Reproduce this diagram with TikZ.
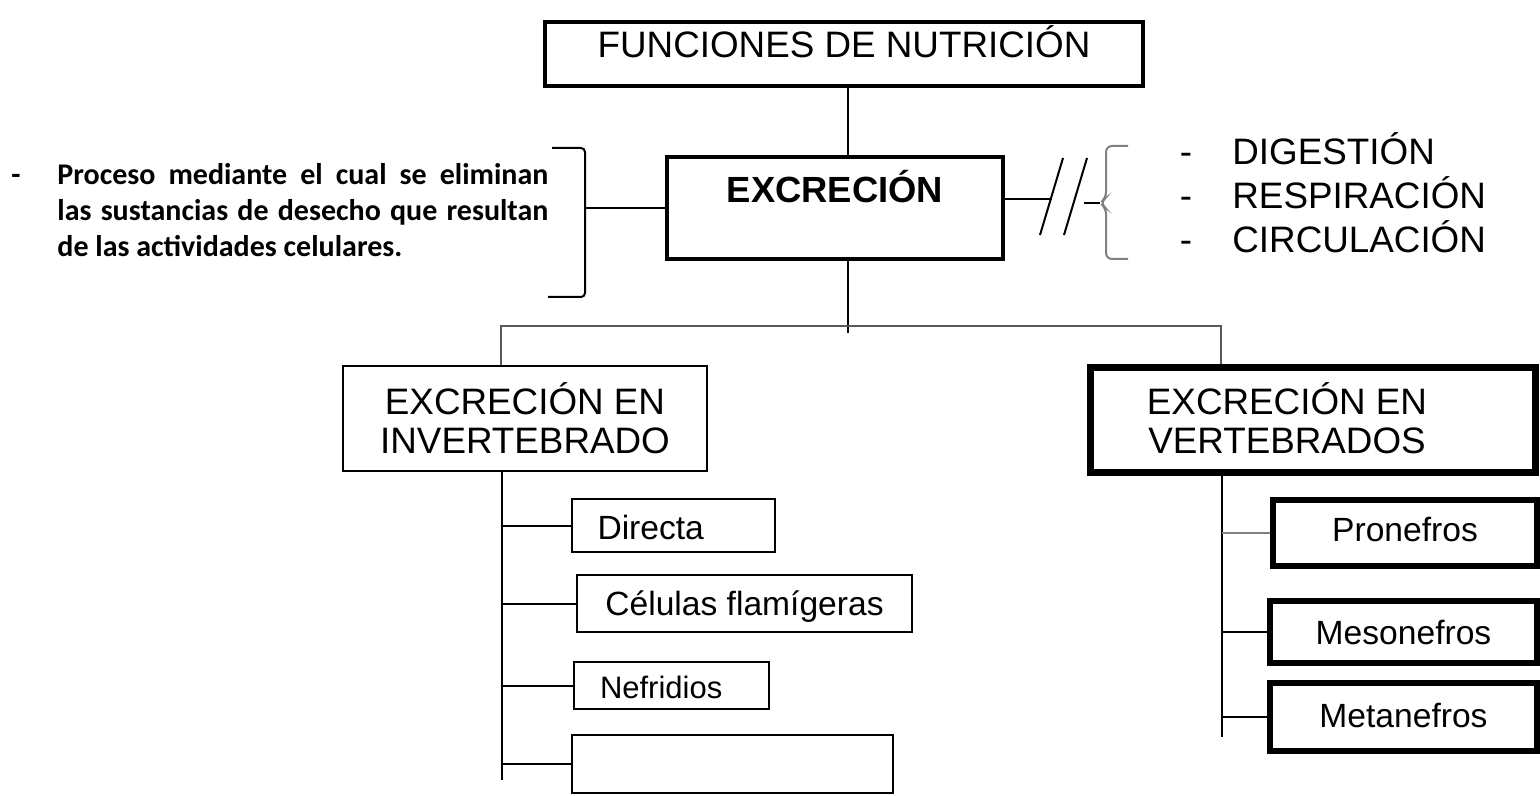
\documentclass[tikz,border=0pt]{standalone}
\usepackage{fontspec}
\setmainfont{Liberation Sans}
\newfontfamily\calibri{Carlito}
\begin{document}
\begin{tikzpicture}[x=0.5pt,y=-0.5pt,
    caja/.style={draw,line width=1pt,inner sep=0pt,font=\fontsize{16.8}{19}\selectfont},
    cajagruesa/.style={caja,line width=1.6pt},
    cajanegra/.style={caja,line width=3.3pt},
    unalinea/.style={text height=12pt,text depth=0pt},
    titulo/.style={font=\fontsize{18.4}{19.5}\selectfont},
    rama/.style={line width=1pt}]
\useasboundingbox (0,0) rectangle (1540,796);
% cajas principales
\node[cajagruesa,minimum width=299pt,minimum height=32pt] (nutricion) at (844,54) {};
\node[titulo,anchor=base] (nutriciontxt) at (844,58) {FUNCIONES DE NUTRICIÓN};
\node[cajagruesa,minimum width=168pt,minimum height=51pt] (excrecion) at (835,208) {};
\node[font=\fontsize{18.2}{20}\selectfont\bfseries,anchor=base] (excreciontxt) at (835,203) {EXCRECIÓN};
\node[caja,titulo,align=center,minimum width=182pt,minimum height=52.5pt] (invert) at (525,418.5) {EXCRECIÓN EN\\INVERTEBRADO};
\node[caja,line width=3.5pt,minimum width=222.5pt,minimum height=52.5pt] (vert) at (1312.5,419.5) {};
\node[titulo,align=center] (verttxt) at (1287,418) {EXCRECIÓN EN\\VERTEBRADOS};
% invertebrados
\node[caja,unalinea,text height=13.5pt,text width=75.5pt,align=left,inner xsep=13pt,minimum height=26.5pt] (directa) at (673,525.5) {Directa};
\node[caja,unalinea,minimum width=167.5pt,minimum height=28.5pt] (celulas) at (744.5,603.5) {Células flamígeras};
\node[caja,unalinea,text height=13pt,font=\fontsize{15.5}{18}\selectfont,text width=71.5pt,align=left,inner xsep=13pt,minimum height=23.5pt] (nefridios) at (671.5,685.5) {Nefridios};
\node[caja,minimum width=160.5pt,minimum height=29pt] (vacio) at (732.5,764) {};
% vertebrados
\node[cajanegra,unalinea,text depth=4pt,minimum width=132pt,minimum height=33pt] (pronefros) at (1405,533) {Pronefros};
\node[cajanegra,unalinea,minimum width=133.5pt,minimum height=31pt] (mesonefros) at (1403.5,632) {Mesonefros};
\node[cajanegra,unalinea,text depth=2pt,minimum width=133.5pt,minimum height=34pt] (metanefros) at (1403.5,717) {Metanefros};
% definicion
\node[font=\calibri\bfseries\fontsize{15}{17.9}\selectfont,anchor=base] (guion) at (16,185) {-};
\node[font=\calibri\bfseries\fontsize{15}{17.9}\selectfont,text width=245.5pt,align=justify,anchor=north west,inner sep=0pt] (proceso) at (57,163) {Proceso mediante el cual se eliminan\linebreak las sustancias de desecho que resultan\linebreak de las actividades celulares.};
\draw[rama,rounded corners=2pt] (552,148) -- (585,148) -- (585,297) -- (548,297);
\coordinate (corchete) at (585,208);
\draw[rama] (corchete) -- (excrecion.west);
% otras funciones
\coordinate (corte) at (1052,199);
\draw[rama] (excrecion.east |- corte) -- (corte);
\draw[rama] (1040,235) -- (1063,158);
\draw[rama] (1064,235) -- (1087,158);
\coordinate (llave) at (1100,203);
\draw[rama] (1084,203) -- (llave);
\draw[rama,gray,rounded corners=3pt] (1128,146) -- (1106,146) -- (1106,198) -- (llave) -- (1106,208) -- (1106,259) -- (1128,259);
\foreach \palabra [count=\i] in {DIGESTIÓN,RESPIRACIÓN,CIRCULACIÓN} {
  \node[titulo,anchor=base] (guion\i) at (1186,{121+44*\i}) {-};
  \node[titulo,anchor=base west,inner sep=0pt] (lista\i) at (1232,{121+44*\i}) {\palabra};
}
% conexiones
\coordinate (cruce) at (848,333);
\draw[rama] (nutricion.south -| cruce) -- (excrecion.north -| cruce);
\draw[rama] (excrecion.south -| cruce) -- (cruce);
\coordinate (ramaI) at (501,326);
\coordinate (ramaV) at (1221,326);
\draw[rama,gray!70!black] (invert.north -| ramaI) -- (ramaI) -- (ramaV) -- (vert.north -| ramaV);
\coordinate (finI) at (502,780);
\draw[rama] (invert.south -| finI) -- (finI);
\foreach \c in {directa,celulas,nefridios,vacio} \draw[rama] (finI |- \c.west) -- (\c.west);
\coordinate (finV) at (1222,737);
\draw[rama] (vert.south -| finV) -- (finV);
\draw[rama,gray] (finV |- pronefros.west) -- (pronefros.west);
\foreach \c in {mesonefros,metanefros} \draw[rama] (finV |- \c.west) -- (\c.west);
\end{tikzpicture}
\end{document}
